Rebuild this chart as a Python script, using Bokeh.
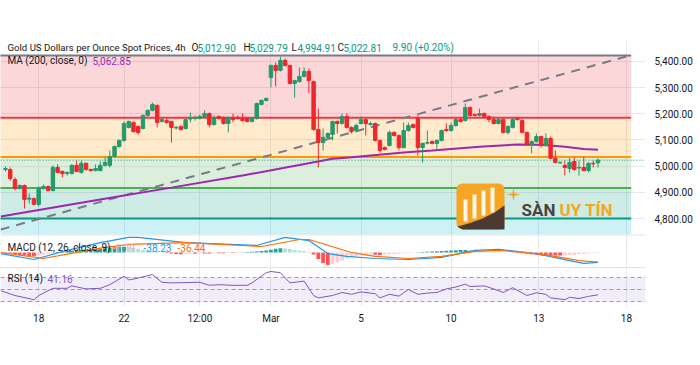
import math
from bokeh.plotting import figure
from bokeh.models import (Range1d, FixedTicker, NumeralTickFormatter, Label, Span,
                          BoxAnnotation, PolyAnnotation, ColumnDataSource)
from bokeh.embed import file_html
from bokeh.resources import INLINE

# ---------------- data ----------------
opens = [4987, 4987, 4949, 4915, 4926, 4874, 4876, 4854, 4915, 4922,
         4907, 4995, 4980, 4972, 4972, 5003, 4976, 5011, 4987, 4983,
         4983, 5003, 5003, 5037, 5075, 5098, 5148, 5167, 5152, 5144,
         5194, 5213, 5232, 5171, 5174, 5171, 5146, 5152, 5144, 5180,
         5182, 5182, 5190, 5201, 5159, 5190, 5186, 5163, 5186, 5186,
         5182, 5182, 5171, 5182, 5236, 5251, 5339, 5385, 5366, 5404,
         5385, 5316, 5323, 5343, 5362, 5323, 5140, 5090, 5110, 5121,
         5171, 5163, 5190, 5148, 5136, 5163, 5178, 5159, 5163, 5098,
         5071, 5079, 5129, 5117, 5071, 5136, 5159, 5182, 5071, 5088,
         5094, 5087, 5098, 5140, 5136, 5155, 5178, 5174, 5224, 5197,
         5194, 5201, 5190, 5178, 5163, 5178, 5129, 5148, 5182, 5174,
         5129, 5083, 5094, 5113, 5079, 5106, 5030, 5012, 5003, 4991,
         5018, 4993, 4995, 4983, 5011, 5012.90]
highs = [4999, 4995, 4957, 4930, 4930, 4896, 4880, 4922, 4930, 4926,
         5003, 5007, 4983, 4980, 5007, 5022, 5022, 5014, 4991, 5007,
         5018, 5034, 5060, 5079, 5102, 5171, 5174, 5171, 5155, 5197,
         5216, 5243, 5236, 5186, 5182, 5174, 5155, 5155, 5182, 5205,
         5194, 5197, 5213, 5205, 5194, 5194, 5190, 5190, 5201, 5194,
         5201, 5186, 5186, 5243, 5255, 5262, 5388, 5396, 5419, 5411,
         5388, 5331, 5377, 5377, 5373, 5327, 5220, 5144, 5129, 5174,
         5174, 5201, 5201, 5152, 5163, 5190, 5182, 5171, 5167, 5102,
         5075, 5136, 5132, 5121, 5167, 5167, 5163, 5194, 5090, 5136,
         5098, 5102, 5140, 5163, 5167, 5182, 5186, 5239, 5228, 5201,
         5220, 5205, 5194, 5190, 5182, 5182, 5155, 5186, 5186, 5178,
         5132, 5098, 5125, 5117, 5125, 5113, 5060, 5018, 5022, 5030,
         5034, 5022, 5034, 5014, 5022, 5029.79]
lows = [4980, 4945, 4907, 4911, 4838, 4857, 4850, 4846, 4911, 4903,
        4903, 4972, 4957, 4964, 4968, 4976, 4972, 4983, 4980, 4980,
        4980, 4999, 4995, 5034, 5071, 5094, 5144, 5129, 5121, 5140,
        5190, 5209, 5148, 5167, 5163, 5090, 5140, 5136, 5140, 5167,
        5174, 5178, 5186, 5148, 5155, 5178, 5159, 5129, 5167, 5178,
        5171, 5167, 5167, 5178, 5232, 5247, 5301, 5304, 5362, 5381,
        5312, 5262, 5320, 5339, 5278, 5136, 4995, 5060, 5106, 5098,
        5125, 5159, 5144, 5125, 5132, 5159, 5117, 5155, 5094, 5052,
        5060, 5075, 5113, 5060, 5068, 5132, 5144, 5041, 5014, 5083,
        5083, 5060, 5094, 5132, 5132, 5152, 5167, 5171, 5190, 5190,
        5190, 5186, 5167, 5159, 5159, 5125, 5121, 5144, 5174, 5125,
        5079, 5049, 5090, 5071, 5075, 5026, 5011, 5011, 4964, 4976,
        4983, 4964, 4980, 4976, 4995, 4994.91]
closes = [4991, 4953, 4915, 4926, 4873, 4878, 4854, 4915, 4922, 4907,
          4995, 4976, 4972, 4976, 5003, 4980, 5011, 4987, 4983, 4991,
          5003, 5014, 5037, 5075, 5098, 5163, 5171, 5132, 5129, 5194,
          5213, 5236, 5167, 5178, 5167, 5148, 5148, 5140, 5178, 5182,
          5186, 5190, 5201, 5159, 5186, 5182, 5163, 5186, 5178, 5182,
          5174, 5171, 5182, 5239, 5251, 5259, 5385, 5366, 5404, 5385,
          5316, 5327, 5343, 5362, 5327, 5140, 5090, 5110, 5125, 5171,
          5163, 5190, 5148, 5132, 5155, 5178, 5163, 5163, 5098, 5060,
          5064, 5129, 5117, 5071, 5136, 5155, 5148, 5071, 5087, 5090,
          5087, 5098, 5136, 5136, 5155, 5178, 5171, 5224, 5194, 5194,
          5201, 5190, 5178, 5163, 5178, 5129, 5152, 5178, 5178, 5129,
          5083, 5094, 5113, 5079, 5106, 5030, 5014, 5014, 4995, 5014,
          4987, 4995, 4983, 5011, 5009, 5022.81]

ma_idx = [-1, 20, 35, 50, 69, 73, 84, 90, 100, 108, 113, 118, 122, 125]
ma_val = [4808, 4873, 4918, 4964, 5028, 5034, 5052, 5060, 5074, 5083, 5082, 5074, 5066, 5062.85]

trend_idx = [-1, 131]
trend_val = [4758, 5419]

fib_levels = [5423, 5185, 5035, 4917, 4800]
fib_line_colors = ["#787b86", "#f23645", "#ff9800", "#4caf50", "#089981"]
fib_fill_colors = ["#f23645", "#ff9800", "#4caf50", "#089981", "#00bcd4"]
fib_end_idx = 132

macd_idx = [-1, 6, 13, 20, 26, 28, 38, 53, 59, 64, 68, 72, 78, 85, 92, 99, 104, 110, 114, 120, 122, 125]
macd_val = [-4, -27, 8, 38, 58, 58, 38, 27, 58, 46, -4, -15, -23, -27, -19, 8, 12, 0, -12, -35, -42, -38.23]
signal_idx = [-1, 8, 20, 26, 38, 54, 62, 64, 73, 78, 85, 92, 99, 104, 110, 116, 121, 125]
signal_val = [0, -23, 17, 31, 38, 23, 50, 50, 0, -15, -23, -15, 4, 8, 0, -15, -31, -36.44]
hist_val = [-3, -5, -7, -10, -12, -14, -14, -12, -9, -6,
            -3, 2, 4, 6, 8, 9, 10, 11, 12, 13,
            14, 16, 18, 20, 22, 22, 20, 17, 14, 11,
            8, 6, 4, 2, -2, -4, -6, -7, -6, -5,
            -5, -4, -4, -4, -3, -3, -3, -2, -2, -1,
            1, 2, 3, 4, 6, 8, 11, 14, 16, 15,
            13, 10, 8, 6, 3, -8, -25, -40, -48, -45,
            -38, -30, -24, -18, -14, -11, -9, -8, -9, -10,
            -8, -7, -6, -5, -3, -2, -1, 1, 2, 3,
            4, 5, 6, 7, 8, 9, 10, 10, 9, 7,
            6, 5, 4, 3, 2, 1, 0, -1, -2, -3,
            -5, -7, -8, -9, -10, -11, -12, -12, -11, -10,
            -9, -7, -6, -4, -3, -1.79]

rsi_idx = [-1, 2, 6, 7, 8, 10, 13, 14, 17, 20, 22, 25, 26, 28, 31, 33, 35, 41, 43, 45,
           48, 51, 52, 55, 56, 58, 60, 63, 65, 66, 69, 71, 73, 75, 78, 79, 81, 83, 85, 87,
           89, 91, 93, 95, 97, 98, 101, 103, 105, 107, 110, 112, 114, 115, 118, 119, 121, 123, 125]
rsi_val = [48, 40, 33, 40, 44, 52, 52, 56, 51, 52, 58, 72, 66, 69, 75, 62, 61, 62, 57, 58,
           57, 57, 61, 78, 80, 78, 61, 64, 40, 36, 40, 45, 42, 46, 43, 36, 42, 39, 50, 42,
           44, 45, 51, 54, 59, 55, 56, 51, 45, 53, 40, 44.5, 42, 36, 33, 37, 35, 38.5, 41.16]

price_ticks = [4800, 4900, 5000, 5100, 5200, 5300, 5400]
time_tick_idx = [7, 25, 41, 56, 75, 94, 112.5, 131]
time_tick_labels = ["18", "22", "12:00", "Mar", "5", "10", "13", "18"]

# ---------------- layout helpers (pixel -> data, for placing decorations) ----------------
BAR0_PX, BAR_PX = 5.0, 4.74
def ix(px):
    return (px - BAR0_PX) / BAR_PX
def pp(py):
    return 4800 + (218 - py) / 0.2617
def mv(py):
    return (252 - py) / 0.26
def rv(py):
    return 50 - (py - 289) / 0.6

FONT = "Roboto"
DARK = "#131722"
UP, DOWN = "#26996b", "#f0262b"

p = figure(width=700, height=365, x_range=Range1d(ix(0), ix(645)), y_range=Range1d(pp(306), pp(40)),
           output_backend="svg", toolbar_location=None, y_axis_location="right",
           min_border_left=0, min_border_right=55, min_border_top=40, min_border_bottom=59,
           background_fill_color="white", border_fill_color="white", outline_line_color=None)
p.extra_y_ranges = {"macd": Range1d(mv(306), mv(40)), "rsi": Range1d(rv(306), rv(40))}

# axes
p.yaxis.ticker = FixedTicker(ticks=price_ticks)
p.yaxis.formatter = NumeralTickFormatter(format="0,0.00")
p.xaxis.ticker = FixedTicker(ticks=time_tick_idx)
p.xaxis.major_label_overrides = {t: l for t, l in zip(time_tick_idx, time_tick_labels)}
for ax in (p.xaxis[0], p.yaxis[0]):
    ax.axis_line_color = None
    ax.major_tick_line_color = None
    ax.minor_tick_line_color = None
    ax.major_tick_out = 0
    ax.major_tick_in = 0
    ax.minor_tick_out = 0
    ax.minor_tick_in = 0
    ax.major_label_text_font = FONT
    ax.major_label_text_font_size = "10px"
    ax.major_label_text_color = DARK
p.yaxis.major_label_standoff = 9
p.xaxis.major_label_standoff = 6
p.xgrid.ticker = FixedTicker(ticks=time_tick_idx)
p.ygrid.ticker = FixedTicker(ticks=price_ticks)
p.grid.grid_line_color = "#e6e9f0"

# fib zones
PANE_BOTTOM = pp(234)
zone_tops = fib_levels
zone_bottoms = fib_levels[1:] + [PANE_BOTTOM]
p.quad(left=ix(-20), right=fib_end_idx, top=zone_tops, bottom=zone_bottoms,
       fill_color=fib_fill_colors, fill_alpha=0.2, line_color=None)
p.segment(x0=[ix(-20)] * len(fib_levels), x1=[fib_end_idx] * len(fib_levels),
          y0=fib_levels, y1=fib_levels, line_color=fib_line_colors, line_width=2)

# trend line and MA
p.line(trend_idx, trend_val, line_color="#787b86", line_width=2, line_dash="9 7")
p.line(ma_idx, ma_val, line_color="#9c27b0", line_width=2)

# candles
n = len(closes)
idx = list(range(n))
colors = [UP if c >= o else DOWN for o, c in zip(opens, closes)]
src = ColumnDataSource(dict(i=idx, h=highs, l=lows,
                            top=[max(o, c) for o, c in zip(opens, closes)],
                            bot=[min(o, c) for o, c in zip(opens, closes)], col=colors))
p.segment(x0="i", x1="i", y0="l", y1="h", line_color="col", line_width=1, source=src)
p.vbar(x="i", width=0.72, top="top", bottom="bot", fill_color="col", line_color="col", source=src)

# last price line
p.add_layout(Span(location=closes[-1], dimension="width", line_color="#26996b",
                  line_dash="1 2", line_width=1))

# pane separators
for sep in (pp(234.5), pp(267)):
    p.add_layout(Span(location=sep, dimension="width", line_color="#e0e3eb", line_width=1))

# MACD
hist_colors = []
for k, h in enumerate(hist_val):
    prev = hist_val[k - 1] if k else h
    if h >= 0:
        hist_colors.append("#26a69a" if h >= prev else "#b2dfdb")
    else:
        hist_colors.append("#ff5252" if h <= prev else "#ffcdd2")
p.vbar(x=idx, top=hist_val, bottom=0, width=0.8, fill_color=hist_colors, line_color=None,
       y_range_name="macd")
p.line(macd_idx, macd_val, line_color="#2196f3", line_width=1.2, y_range_name="macd")
p.line(signal_idx, signal_val, line_color="#ff6d00", line_width=1.2, y_range_name="macd")

# RSI
p.add_layout(BoxAnnotation(bottom=30, top=70, y_range_name="rsi", fill_color="#7e57c2",
                           fill_alpha=0.1, line_color=None))
for lv in (70, 50, 30):
    p.add_layout(Span(location=lv, dimension="width", y_range_name="rsi", line_color="#787b86",
                      line_alpha=0.7, line_dash="4 3", line_width=1))
p.line(rsi_idx, rsi_val, line_color="#7e57c2", line_width=1, y_range_name="rsi")

# ---------------- watermark logo ----------------
p.add_layout(BoxAnnotation(left=ix(456), right=ix(504), top=pp(183), bottom=pp(229),
                           fill_color="#f6a623", fill_alpha=1, line_color=None, border_radius=6))
p.add_layout(PolyAnnotation(
    xs=[ix(v) for v in (457, 468, 482, 494, 504, 504, 462)],
    ys=[pp(v) for v in (226, 223, 218, 212, 205, 229, 229)],
    fill_color="#4b3a32", fill_alpha=1, line_color=None))
for (l, r, t, b) in [(463, 467, 199, 221), (472, 476, 194, 218), (481, 485, 190, 215), (490, 494, 187, 212)]:
    p.add_layout(BoxAnnotation(left=ix(l), right=ix(r), top=pp(t), bottom=pp(b),
                               fill_color="white", fill_alpha=0.9, line_color=None))
cx, cy, ro, ri = 513, 194, 7, 1.6
sx, sy = [], []
for k in range(8):
    a = math.pi / 2 + k * math.pi / 4
    rr = ro if k % 2 == 0 else ri
    sx.append(ix(cx + rr * math.cos(a)))
    sy.append(pp(cy - rr * math.sin(a)))
p.add_layout(PolyAnnotation(xs=sx, ys=sy, fill_color="#f6a623", fill_alpha=1, line_color=None))
p.add_layout(Label(x=ix(521), y=pp(209), text="SÀN", text_font="Roboto", text_font_style="bold",
                   text_font_size="17px", text_color="#4b4340", text_baseline="middle"))
p.add_layout(Label(x=ix(559), y=pp(209), text="UY TÍN", text_font="Roboto", text_font_style="bold",
                   text_font_size="17px", text_color="#f6a623", text_baseline="middle"))

# ---------------- legends / header texts ----------------
def txt(px, py, s, color=DARK, size="10px", bold=False):
    p.add_layout(Label(x=ix(px), y=pp(py), text=s, text_font=FONT, text_font_size=size,
                       text_color=color, text_baseline="middle", text_align="left",
                       text_font_style="bold" if bold else "normal"))

GREEN_TXT = "#089981"
txt(7, 47, "Gold US Dollars per Ounce Spot Prices, 4h", size="9.6px")
txt(191, 47, "O"); txt(197, 47, "5,012.90", GREEN_TXT)
txt(243, 47, "H"); txt(249, 47, "5,029.79", GREEN_TXT)
txt(291, 47, "L"); txt(297, 47, "4,994.91", GREEN_TXT)
txt(337, 47, "C"); txt(343, 47, "5,022.81", GREEN_TXT)
txt(392, 47, "9.90 (+0.20%)", GREEN_TXT)
txt(7, 60, "MA (200, close, 0)")
txt(92, 60, "5,062.85", "#9c27b0")
txt(7, 247, "MACD (12, 26, close, 9)")
txt(112, 247, "-1.79", "#f7a8ae")
txt(143, 247, "-38.23", "#2196f3")
txt(177, 247, "-36.44", "#ff6d00")
txt(7, 278, "RSI (14)")
txt(47, 278, "41.16", "#7e57c2")

# ---------------- price-scale value boxes ----------------
def box(px, py, s, bg, fg="white"):
    p.add_layout(Label(x=ix(px), y=pp(py), text=s, text_font=FONT, text_font_size="10.5px",
                       text_color=fg, text_baseline="middle", text_align="left",
                       background_fill_color=bg, background_fill_alpha=1, padding=4))

box(652, 146.5, "5,062.85", "#9c27b0")
box(652, 160.5, "5,022.81", "#26996b")
box(652, 258, "-1.79", "#f8c9cd", DARK)
box(652, 272, "-36.44", "#ff6d00")
box(655, 272.5, "80.00", "white", DARK)
box(652, 294.5, "41.16", "#7e57c2")

open("out.html", "w").write(file_html(p, INLINE))
